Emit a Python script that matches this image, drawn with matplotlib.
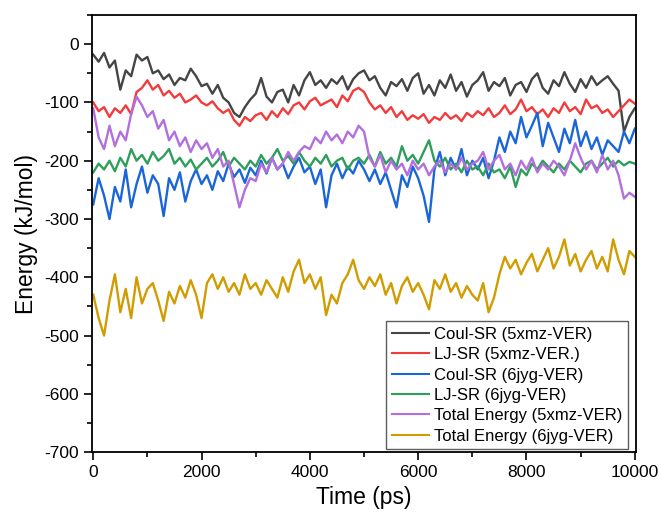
import numpy as np
import matplotlib
matplotlib.use("Agg")
import matplotlib.pyplot as plt
from matplotlib.ticker import MultipleLocator

plt.rcParams['font.family'] = ['Liberation Sans', 'DejaVu Sans']
plt.rcParams['axes.unicode_minus'] = False

# time axis, one value every 100 ps
time_ps = np.arange(0, 10001, 100)

coul_5xmz = [
    -18, -30, -15, -40, -28, -78, -45, -55, -18, -28, -22,
    -50, -45, -60, -52, -70, -58, -62, -42, -55, -72,
    -68, -85, -70, -92, -100, -118, -125, -108, -95, -85,
    -58, -90, -100, -82, -78, -100, -70, -88, -62, -48,
    -70, -62, -75, -60, -68, -55, -78, -60, -50, -45,
    -62, -55, -75, -88, -65, -72, -60, -80, -58, -50,
    -85, -70, -88, -62, -75, -52, -80, -65, -90, -70,
    -62, -48, -80, -65, -72, -58, -88, -70, -65, -82,
    -60, -50, -75, -85, -62, -72, -48, -68, -82, -60,
    -75, -55, -70, -62, -55, -68, -80, -150, -125, -110,
]

lj_5xmz = [
    -100, -115, -108, -125, -110, -118, -105, -120, -82, -75, -62,
    -78, -70, -88, -80, -92, -85, -100, -95, -88, -100,
    -105, -98, -110, -118, -112, -130, -140, -125, -132, -122,
    -118, -130, -115, -125, -110, -120, -105, -100, -112, -98,
    -92, -105, -100, -95, -108, -88, -98, -80, -75, -82,
    -100, -112, -105, -118, -108, -125, -115, -130, -122, -128,
    -120, -135, -125, -130, -118, -128, -122, -132, -118, -125,
    -115, -122, -110, -125, -118, -105, -120, -112, -95, -115,
    -108, -120, -112, -125, -110, -118, -100, -115, -108, -120,
    -95, -110, -105, -118, -112, -125, -115, -105, -95, -102,
]

coul_6jyg = [
    -275, -230, -260, -300, -245, -270, -215, -280, -240, -210, -255,
    -225, -240, -295, -230, -250, -220, -270, -235, -215, -240,
    -225, -250, -218, -235, -205, -228, -215, -238, -212, -225,
    -200, -222, -195, -215, -205, -230, -210, -195, -220, -210,
    -240, -215, -280, -225, -205, -230, -210, -222, -200, -215,
    -235, -215, -240, -220, -250, -280, -225, -245, -210, -230,
    -260, -305, -215, -185, -225, -195, -215, -180, -225, -200,
    -215, -195, -230, -200, -160, -185, -150, -170, -125, -160,
    -140, -118, -175, -135, -160, -185, -145, -170, -130, -175,
    -150, -180, -160, -190, -165, -175, -185, -150, -170, -145,
]

lj_6jyg = [
    -220, -205, -215, -200, -218, -195, -210, -180, -200, -190, -205,
    -185, -200, -192, -180, -205, -195, -210, -198, -215, -205,
    -195, -210, -200, -185, -210, -195, -205, -215, -200, -210,
    -190, -205, -195, -180, -200, -192, -205, -185, -200, -210,
    -195, -205, -190, -210, -200, -195, -215, -200, -195, -205,
    -190, -210, -185, -205, -195, -210, -175, -200, -190, -205,
    -185, -165, -200, -210, -195, -215, -205, -220, -200, -215,
    -210, -225, -205, -220, -215, -230, -210, -245, -215, -225,
    -205, -215, -200, -210, -220, -205, -215, -200, -210, -220,
    -205, -200, -215, -205, -195, -210, -200, -208, -202, -205,
]

total_5xmz = [
    -110, -160, -180, -140, -175, -150, -165, -120, -90, -105, -125,
    -115, -145, -130, -165, -150, -175, -160, -185, -165, -180,
    -170, -195, -180, -210, -200, -240, -280, -250, -230, -235,
    -205, -220, -195, -215, -205, -185, -200, -185, -175, -180,
    -160, -170, -150, -165, -155, -170, -150, -160, -140, -150,
    -195, -210, -190, -220, -200, -215, -205, -225, -200, -215,
    -205, -225, -210, -200, -220, -205, -215, -195, -215, -205,
    -200, -185, -215, -200, -190, -215, -205, -225, -200, -215,
    -195, -220, -205, -215, -200, -210, -225, -200, -170, -195,
    -215, -200, -220, -190, -215, -200, -225, -265, -255, -262,
]

total_6jyg = [
    -430, -470, -500, -440, -395, -460, -420, -470, -400, -445, -420,
    -410, -440, -475, -425, -445, -415, -435, -405, -430, -470,
    -410, -395, -420, -400, -425, -410, -430, -395, -420, -410,
    -430, -405, -420, -435, -400, -425, -390, -370, -410, -395,
    -420, -400, -465, -430, -445, -410, -395, -370, -405, -420,
    -400, -415, -395, -430, -410, -445, -415, -400, -425, -410,
    -430, -455, -405, -420, -395, -425, -410, -435, -415, -430,
    -440, -410, -460, -435, -395, -365, -385, -370, -395, -375,
    -360, -390, -370, -350, -385, -365, -335, -380, -360, -390,
    -370, -355, -385, -365, -390, -335, -370, -395, -355, -365,
]

series = [
    (coul_5xmz, 'Coul-SR (5xmz-VER)', '#454545'),
    (lj_5xmz, 'LJ-SR (5xmz-VER.)', '#f23c3c'),
    (coul_6jyg, 'Coul-SR (6jyg-VER)', '#1a66d8'),
    (lj_6jyg, 'LJ-SR (6jyg-VER)', '#2e9e5b'),
    (total_5xmz, 'Total Energy (5xmz-VER)', '#b26fdd'),
    (total_6jyg, 'Total Energy (6jyg-VER)', '#d09c00'),
]

fig = plt.figure(figsize=(6.61, 5.19), dpi=100)
ax = fig.add_axes([0.139, 0.129, 0.823, 0.842])

for vals, name, col in series:
    ax.plot(time_ps, vals, color=col, linewidth=1.7, label=name)

ax.set_xlim(-25, 10020)
ax.set_ylim(-700, 50)
ax.xaxis.set_major_locator(MultipleLocator(2000))
ax.xaxis.set_minor_locator(MultipleLocator(1000))
ax.yaxis.set_major_locator(MultipleLocator(100))
ax.yaxis.set_minor_locator(MultipleLocator(50))
ax.tick_params(which='major', length=6, width=1.2, labelsize=12.5, direction='out')
ax.tick_params(which='minor', length=3.5, width=1.2, direction='out')
for sp in ax.spines.values():
    sp.set_linewidth(1.3)

ax.set_xlabel('Time (ps)', fontsize=16.5)
ax.set_ylabel('Energy (kJ/mol)', fontsize=16.5)

leg = ax.legend(loc='lower right', bbox_to_anchor=(0.985, 0.006), borderaxespad=0,
                fontsize=12, fancybox=False, handlelength=2.2, handletextpad=0.3,
                labelspacing=0.32, borderpad=0.35)
leg.get_frame().set_edgecolor('#333333')
leg.get_frame().set_linewidth(1.0)
for line in leg.get_lines():
    line.set_linewidth(1.5)

fig.savefig('out.png', dpi=100)
